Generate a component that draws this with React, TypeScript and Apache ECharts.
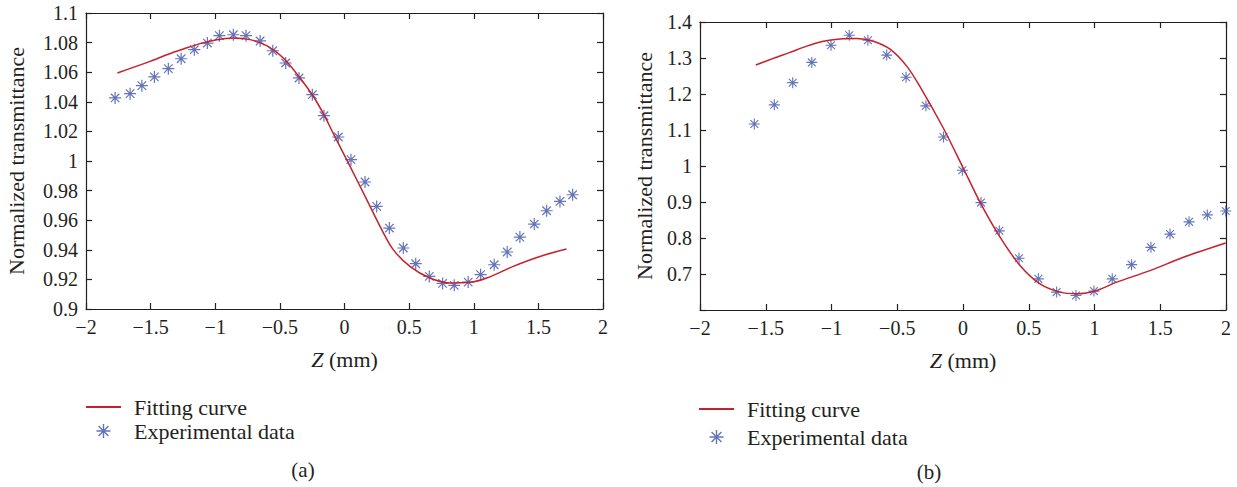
import React, { useEffect, useRef } from "react";
import * as echarts from "echarts";

// ---- Panel (a) ----
const aExpZ = [-1.775, -1.659, -1.568, -1.471, -1.363, -1.264, -1.162, -1.061, -0.968, -0.86, -0.762, -0.653, -0.555, -0.455, -0.352, -0.249, -0.159, -0.048, 0.05, 0.159, 0.249, 0.347, 0.455, 0.551, 0.656, 0.759, 0.849, 0.957, 1.053, 1.158, 1.259, 1.357, 1.468, 1.564, 1.667, 1.765];
const aExpT = [1.0426, 1.0455, 1.0509, 1.0568, 1.0624, 1.0691, 1.0752, 1.0797, 1.0847, 1.0853, 1.0847, 1.0811, 1.0745, 1.0662, 1.0561, 1.0448, 1.0306, 1.0162, 1.0009, 0.9858, 0.9693, 0.9547, 0.9412, 0.9306, 0.922, 0.9173, 0.916, 0.9182, 0.9232, 0.9299, 0.9385, 0.9486, 0.9574, 0.9664, 0.9727, 0.9772];
const aFitZ = [-1.757, -1.504, -1.375, -1.246, -1.118, -0.988, -0.86, -0.731, -0.602, -0.473, -0.344, -0.241, -0.159, -0.089, 0.043, 0.172, 0.288, 0.377, 0.506, 0.661, 0.816, 0.971, 1.1, 1.305, 1.512, 1.718];
const aFitT = [1.0595, 1.0673, 1.0718, 1.0757, 1.0793, 1.082, 1.0831, 1.082, 1.0779, 1.0696, 1.0561, 1.0436, 1.0313, 1.019, 0.9964, 0.9739, 0.9536, 0.9401, 0.9288, 0.9209, 0.9176, 0.918, 0.9209, 0.9288, 0.9355, 0.9405];

// ---- Panel (b) ----
const bExpZ = [-1.587, -1.435, -1.295, -1.15, -1.004, -0.865, -0.723, -0.58, -0.433, -0.282, -0.148, -0.005, 0.137, 0.276, 0.426, 0.573, 0.712, 0.859, 0.996, 1.135, 1.282, 1.429, 1.574, 1.719, 1.858, 1.998];
const bExpT = [1.1166, 1.1699, 1.2315, 1.2878, 1.3356, 1.3633, 1.3494, 1.308, 1.2464, 1.1671, 1.0807, 0.9884, 0.8983, 0.8199, 0.7436, 0.6865, 0.6497, 0.6403, 0.6525, 0.6865, 0.726, 0.774, 0.8108, 0.8448, 0.8641, 0.8751];
const bFitZ = [-1.576, -1.443, -1.316, -1.189, -1.062, -0.935, -0.808, -0.682, -0.555, -0.428, -0.327, -0.15, -0.005, 0.131, 0.283, 0.435, 0.586, 0.738, 0.865, 1.017, 1.169, 1.422, 1.676, 1.998];
const bFitT = [1.2804, 1.2989, 1.3155, 1.3329, 1.3467, 1.3531, 1.3542, 1.3467, 1.3245, 1.2775, 1.2204, 1.1055, 0.9994, 0.8983, 0.8017, 0.7232, 0.6727, 0.6497, 0.645, 0.6542, 0.6773, 0.7094, 0.7464, 0.7859];

const xTicks = { min: -2, max: 2, interval: 0.5 };
const aY = { min: 0.9, max: 1.1, interval: 0.02 };
const bY = { min: 0.6, max: 1.4, interval: 0.1 };

const SERIES_FIT = "Fitting curve";
const SERIES_EXP = "Experimental data";
const PANEL_LABELS = ["(a)", "(b)"];
const X_NAME = "{i|Z} (mm)";
const Y_NAME = "Normalized transmittance";

const FONT = "'Liberation Serif', 'Times New Roman', serif";
const TEXT = "#231f20";
const RED = "#c8202a";
const BLUE = "#3d51a8";

const STAR =
  "path://M-10,-1L10,-1L10,1L-10,1Z M-1,-10L1,-10L1,10L-1,10Z M-6.36,-7.78L7.78,6.36L6.36,7.78L-7.78,-6.36Z M-7.78,6.36L6.36,-7.78L7.78,-6.36L-6.36,7.78Z";

const zip = (a: number[], b: number[]) => a.map((v, i) => [v, b[i]]);
const fmtX = (v: number) => (v < 0 ? "\u2212" + Math.abs(v) : String(v));

export default function App() {
  const ref = useRef<HTMLDivElement>(null);
  useEffect(() => {
    if (!ref.current) return;
    const chart = echarts.init(ref.current, undefined, { renderer: "svg" });
    const line = { show: true, onZero: false, lineStyle: { color: TEXT, width: 1.2 } };
    const tick = (show: boolean) => ({ show, inside: true, length: 6, lineStyle: { color: TEXT, width: 1.2 } });
    const label = { color: TEXT, fontFamily: FONT, fontSize: 20 };
    const mkX = (gridIndex: number) => [
      {
        type: "value", gridIndex, position: "bottom", ...xTicks,
        axisLine: line, axisTick: tick(true), splitLine: { show: false },
        axisLabel: { ...label, margin: 8, formatter: fmtX },
        name: X_NAME, nameLocation: "middle", nameGap: 39,
        nameTextStyle: { color: TEXT, fontFamily: FONT, fontSize: 22, rich: { i: { fontStyle: "italic", fontFamily: FONT, fontSize: 22, color: TEXT } } },
      },
      {
        type: "value", gridIndex, position: "top", ...xTicks,
        axisLine: line, axisTick: tick(true), splitLine: { show: false }, axisLabel: { show: false },
      },
    ];
    const mkY = (gridIndex: number, r: any, fmt: (v: number) => string, gap: number) => [
      {
        type: "value", gridIndex, position: "left", ...r,
        axisLine: line, axisTick: tick(true), splitLine: { show: false },
        axisLabel: { ...label, margin: 8, formatter: fmt },
        name: Y_NAME, nameLocation: "middle", nameGap: gap, nameRotate: 90,
        nameTextStyle: { color: TEXT, fontFamily: FONT, fontSize: 22 },
      },
      {
        type: "value", gridIndex, position: "right", ...r,
        axisLine: line, axisTick: tick(true), splitLine: { show: false }, axisLabel: { show: false },
      },
    ];
    const legendBase = {
      orient: "vertical",
      itemWidth: 35, itemHeight: 14,
      textStyle: { color: TEXT, fontFamily: FONT, fontSize: 22, padding: [0, 0, 0, 8] },
      data: [{ name: SERIES_FIT, itemStyle: { opacity: 0 } }, SERIES_EXP],
      selectedMode: false,
    };
    chart.setOption({
      animation: false,
      backgroundColor: "#fff",
      grid: [
        { left: 86, top: 13, width: 517, height: 296 },
        { left: 700, top: 22, width: 526, height: 288 },
      ],
      xAxis: [...mkX(0), ...mkX(1)],
      yAxis: [
        ...mkY(0, aY, (v: number) => String(+v.toFixed(2)), 59),
        ...mkY(1, bY, (v: number) => (Math.abs(v - 0.6) < 1e-6 ? "" : String(+v.toFixed(1))), 45),
      ],
      legend: [
        { ...legendBase, left: 80, top: 391, itemGap: 2 },
        { ...legendBase, left: 693, top: 393, itemGap: 6 },
      ],
      series: [
        { name: SERIES_FIT, type: "line", xAxisIndex: 0, yAxisIndex: 0, data: zip(aFitZ, aFitT), smooth: 0.3, symbol: "none", lineStyle: { color: RED, width: 1.5 }, itemStyle: { color: RED } },
        { name: SERIES_EXP, type: "scatter", xAxisIndex: 0, yAxisIndex: 0, data: zip(aExpZ, aExpT), symbol: STAR, symbolSize: 12, itemStyle: { color: BLUE } },
        { name: SERIES_FIT, type: "line", xAxisIndex: 2, yAxisIndex: 2, data: zip(bFitZ, bFitT), smooth: 0.3, symbol: "none", lineStyle: { color: RED, width: 1.5 }, itemStyle: { color: RED } },
        { name: SERIES_EXP, type: "scatter", xAxisIndex: 2, yAxisIndex: 2, data: zip(bExpZ, bExpT), symbol: STAR, symbolSize: 11, itemStyle: { color: BLUE } },
      ],
      graphic: [
        { type: "text", x: 303, y: 470, style: { text: PANEL_LABELS[0], fill: TEXT, fontFamily: FONT, fontSize: 21, align: "center", verticalAlign: "middle" } },
        { type: "text", x: 929, y: 472, style: { text: PANEL_LABELS[1], fill: TEXT, fontFamily: FONT, fontSize: 21, align: "center", verticalAlign: "middle" } },
      ],
    });
    return () => chart.dispose();
  }, []);
  return <div ref={ref} style={{ position: "absolute", left: 0, top: 0, width: 1237, height: 487 }} />;
}
